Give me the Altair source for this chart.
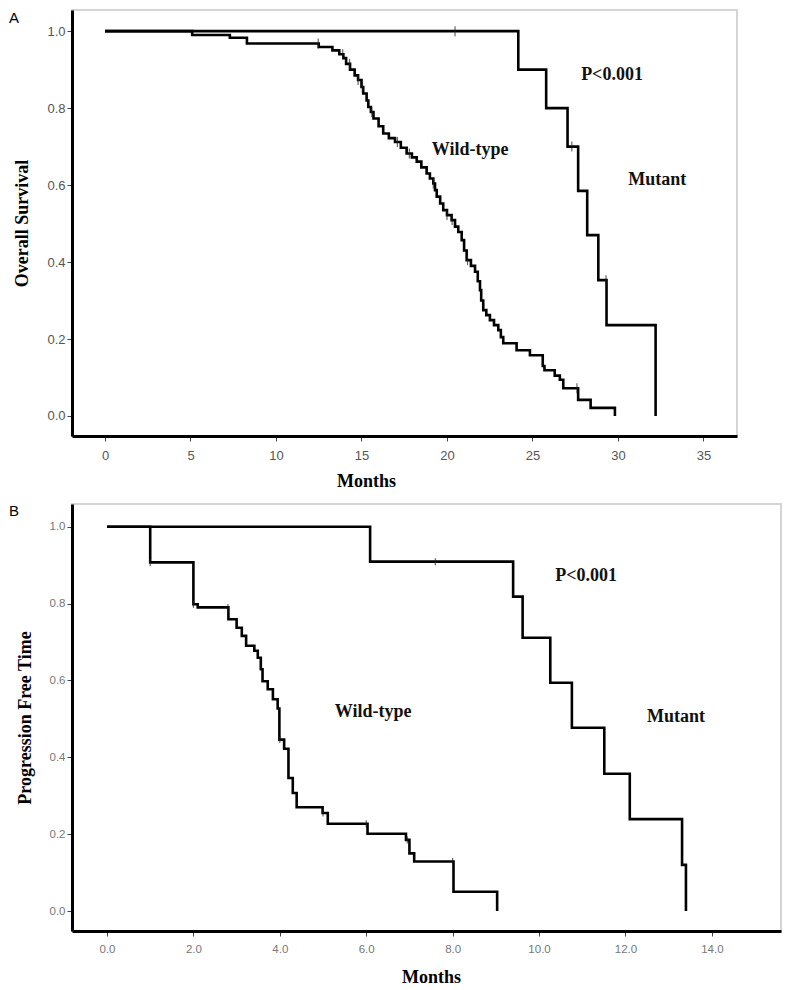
import altair as alt
import pandas as pd

# ---------------- Panel A: Overall Survival ----------------
a_mut_t = [0, 24.17, 25.8, 27.05, 27.67, 28.2, 28.85, 29.33, 32.2]
a_mut_s = [1.0, 0.90, 0.80, 0.70, 0.585, 0.47, 0.353, 0.236, 0.0]
a_mut_cens = [20.47, 27.3, 29.3]

a_wild_t = [0, 5.1, 7.3, 8.3, 12.5, 13.3, 13.7, 13.94, 14.1, 14.33, 14.6, 14.8,
            15.0, 15.1, 15.3, 15.4, 15.55, 15.7, 16.0, 16.27, 16.6, 16.96, 17.3,
            17.64, 17.95, 18.23, 18.5, 18.81, 19.0, 19.2, 19.3, 19.4, 19.6, 19.78,
            20.0, 20.27, 20.47, 20.66, 20.86, 21.0, 21.15, 21.4, 21.64, 21.8, 21.93,
            22.0, 22.12, 22.3, 22.51, 22.75, 23.0, 23.15, 23.29, 24.07, 24.85,
            25.6, 25.7, 26.3, 26.6, 26.8, 27.67, 28.4, 29.82]
a_wild_s = [1.0, 0.99, 0.983, 0.968, 0.959, 0.95, 0.94, 0.93, 0.915, 0.90, 0.885, 0.873,
            0.855, 0.838, 0.82, 0.803, 0.79, 0.773, 0.753, 0.734, 0.722, 0.712, 0.697,
            0.682, 0.672, 0.661, 0.646, 0.630, 0.617, 0.604, 0.587, 0.570, 0.552, 0.535,
            0.522, 0.509, 0.492, 0.478, 0.457, 0.43, 0.405, 0.39, 0.375, 0.35, 0.327,
            0.30, 0.275, 0.262, 0.249, 0.236, 0.223, 0.205, 0.189, 0.171, 0.158,
            0.13, 0.119, 0.105, 0.094, 0.072, 0.042, 0.021, 0.0]
a_wild_cens = [12.47, 13.9, 14.3, 14.8, 15.05, 15.6, 17.1, 17.8, 19.2, 20.0, 20.3,
               21.2, 27.6]

# ---------------- Panel B: Progression Free Time ----------------
b_mut_t = [0, 6.09, 9.4, 9.62, 10.26, 10.76, 11.51, 12.1, 13.31, 13.4]
b_mut_s = [1.0, 0.909, 0.818, 0.711, 0.594, 0.477, 0.357, 0.239, 0.12, 0.0]
b_mut_cens = [7.6]

b_wild_t = [0, 1.0, 2.0, 2.1, 2.81, 3.0, 3.12, 3.22, 3.41, 3.49, 3.56, 3.6, 3.72,
            3.84, 3.95, 3.99, 4.1, 4.2, 4.3, 4.39, 4.99, 5.11, 6.03, 6.92, 7.0,
            7.11, 8.02, 9.03]
b_wild_s = [1.0, 0.907, 0.798, 0.79, 0.759, 0.737, 0.716, 0.69, 0.677, 0.659, 0.629,
            0.598, 0.577, 0.551, 0.527, 0.446, 0.422, 0.346, 0.307, 0.27, 0.255, 0.227,
            0.201, 0.185, 0.15, 0.129, 0.05, 0.0]
b_wild_cens = [1.0, 2.0, 2.8, 4.0, 5.0, 6.0, 6.95, 8.0]

a_labels = ["P<0.001", "Wild-type", "Mutant"]
a_label_x = [29.65, 21.35, 32.3]
a_label_y = [0.886, 0.691, 0.613]
b_labels = ["P<0.001", "Wild-type", "Mutant"]
b_label_x = [11.09, 6.16, 13.17]
b_label_y = [0.871, 0.517, 0.506]


def step_frame(series):
    rows = []
    for name, t, s in series:
        for i, (ti, si) in enumerate(zip(t, s)):
            rows.append({"t": ti, "s": si, "g": name, "o": i})
    return pd.DataFrame(rows)


def surv_at(t, s, x):
    v = s[0]
    for ti, si in zip(t, s):
        if ti <= x:
            v = si
    return v


def cens_frame(series):
    rows = []
    for name, t, s, cens in series:
        for c in cens:
            rows.append({"t": c, "s": surv_at(t, s, c), "g": name})
    return pd.DataFrame(rows)


def panel(steps, cens, labels, xdom, ydom, xticks, xfmt, yfmt, ytitle, w, h,
          label_size, label_color, letter, letter_y, title_x, tick_len,
          xlabel_pad, xtitle_pad):
    xs = alt.Scale(domain=xdom, nice=False, zero=False)
    ys = alt.Scale(domain=ydom, nice=False, zero=False)
    xax = alt.Axis(values=xticks, format=xfmt, title="Months", labelFontSize=label_size,
                   labelColor=label_color, titleX=title_x, titlePadding=xtitle_pad,
                   labelPadding=xlabel_pad)
    yax = alt.Axis(values=[0, 0.2, 0.4, 0.6, 0.8, 1.0], format=yfmt, title=ytitle,
                   labelFontSize=label_size, labelColor=label_color, titlePadding=15)
    lines = alt.Chart(steps).mark_line(
        interpolate="step-after", color="black", strokeWidth=2.6
    ).encode(
        x=alt.X("t:Q", scale=xs, axis=xax),
        y=alt.Y("s:Q", scale=ys, axis=yax),
        detail="g:N",
        order="o:Q",
    )
    ticks = alt.Chart(cens).mark_tick(
        orient="vertical", color="#222", thickness=1.2, size=tick_len
    ).encode(x=alt.X("t:Q", scale=xs), y=alt.Y("s:Q", scale=ys))
    txt = alt.Chart(labels).mark_text(
        font="Liberation Serif", fontWeight="bold", fontSize=18, color="#111"
    ).encode(x=alt.X("x:Q", scale=xs), y=alt.Y("y:Q", scale=ys), text="label:N")
    lett = alt.Chart(pd.DataFrame({"l": [letter]})).mark_text(
        font="Liberation Sans", fontSize=15, color="black", align="left",
        baseline="middle"
    ).encode(x=alt.value(-63), y=alt.value(letter_y), text="l:N")
    return alt.layer(lines, ticks, txt, lett).properties(width=w, height=h)


stepsA = step_frame([("Mutant", a_mut_t, a_mut_s), ("Wild-type", a_wild_t, a_wild_s)])
censA = cens_frame([("Mutant", a_mut_t, a_mut_s, a_mut_cens),
                    ("Wild-type", a_wild_t, a_wild_s, a_wild_cens)])
labA = pd.DataFrame({"label": a_labels, "x": a_label_x, "y": a_label_y})

stepsB = step_frame([("Mutant", b_mut_t, b_mut_s), ("Wild-type", b_wild_t, b_wild_s)])
censB = cens_frame([("Mutant", b_mut_t, b_mut_s, b_mut_cens),
                    ("Wild-type", b_wild_t, b_wild_s, b_wild_cens)])
labB = pd.DataFrame({"label": b_labels, "x": b_label_x, "y": b_label_y})

chartA = panel(stepsA, censA, labA, [-1.93, 36.96], [-0.052, 1.055],
               [0, 5, 10, 15, 20, 25, 30, 35], "d", ".1f", "Overall Survival",
               665, 426, 13, "#555", "A", 8, 294, 10, 8, 10)
chartB = panel(stepsB, censB, labB, [-0.81, 15.6], [-0.052, 1.059],
               [0, 2, 4, 6, 8, 10, 12, 14], ".1f", ".1f", "Progression Free Time",
               709, 427, 11.5, "#777", "B", 7, 359, 7, 7, 14)

chart = alt.vconcat(chartA, chartB, spacing=12).properties(
    padding={"left": 0, "top": 1, "right": 0, "bottom": 0},
    background="white"
).configure_view(
    stroke="#d4d4d4", strokeWidth=2
).configure_axis(
    domainColor="black", domainWidth=3, tickColor="#444", tickSize=5, tickWidth=1,
    labelFont="Liberation Sans", labelPadding=2, grid=False,
    titleFont="Liberation Serif", titleFontWeight="bold", titleFontSize=18,
    titleColor="black"
)

chart.save("out.html", embed_options={"renderer": "svg", "actions": False})
